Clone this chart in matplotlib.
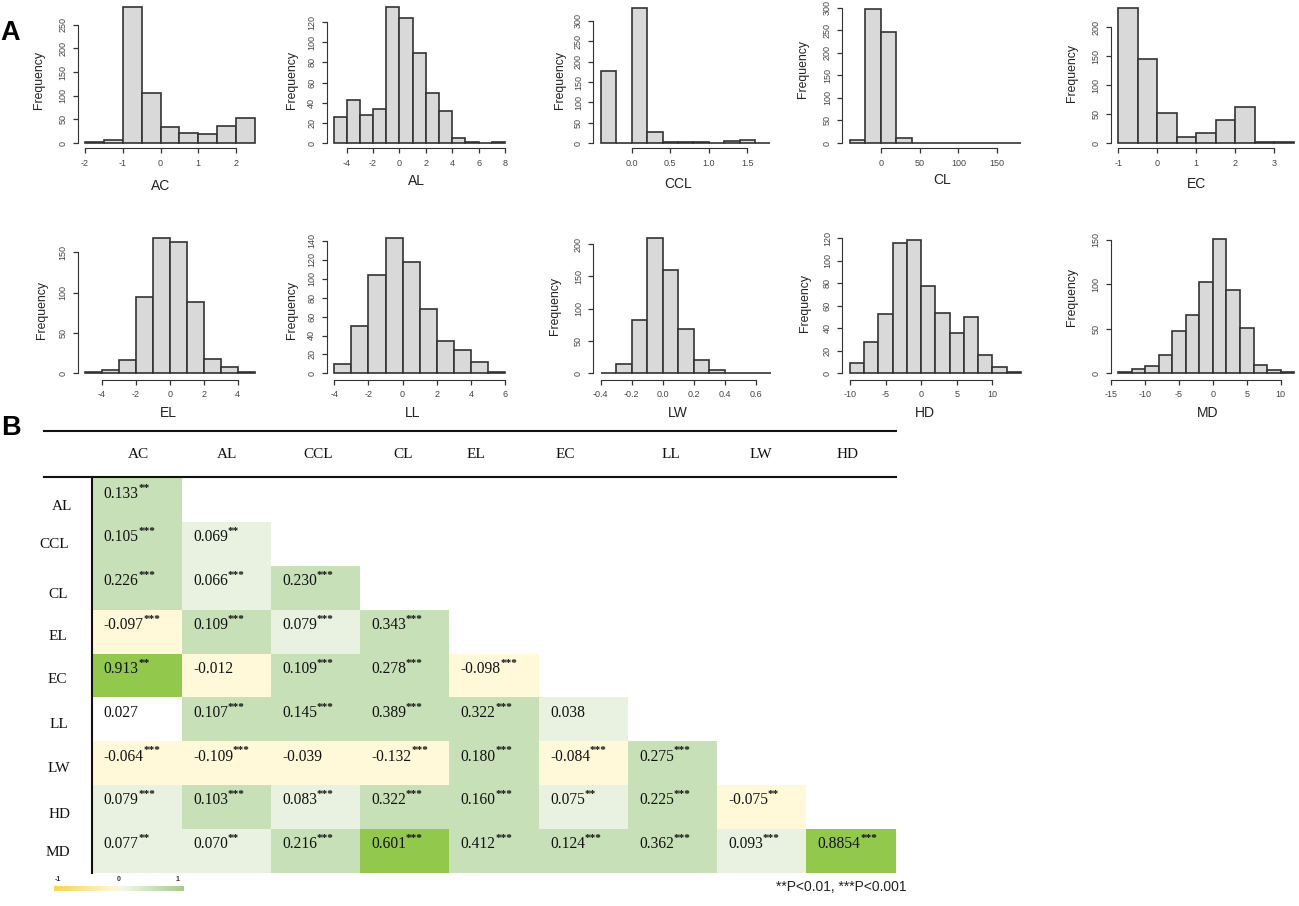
import numpy as np
import matplotlib
matplotlib.use("Agg")
import matplotlib.pyplot as plt
from matplotlib.colors import ListedColormap, BoundaryNorm, LinearSegmentedColormap

W, H = 1299, 906

# === Histogram data: first bin edge, bin width, counts, ticks ===
ac_counts = [3, 7, 287, 105, 33, 22, 19, 35, 52]
al_counts = [26, 43, 28, 34, 135, 124, 89, 50, 32, 5, 1, 0, 1]
ccl_counts = [178, 1, 333, 27, 2, 2, 2, 1, 5, 7, 1]
cl_counts = [6, 298, 247, 12, 0, 0, 0, 0, 0, 0, 1]
ec_counts = [234, 146, 51, 11, 18, 40, 63, 1, 1]
el_counts = [1, 4, 16, 95, 168, 163, 89, 18, 8, 1]
ll_counts = [10, 50, 104, 143, 118, 68, 34, 25, 12, 1]
lw_counts = [1, 14, 83, 209, 160, 69, 20, 5, 1, 0, 1]
hd_counts = [9, 28, 53, 116, 119, 78, 54, 36, 50, 16, 6, 1]
md_counts = [1, 5, 8, 21, 47, 65, 103, 151, 94, 51, 9, 4, 1]

hist_data = {
    "AC": (-2, 0.5, ac_counts, [-2, -1, 0, 1, 2], [0, 50, 100, 150, 200, 250]),
    "AL": (-5, 1, al_counts, [-4, -2, 0, 2, 4, 6, 8], [0, 20, 40, 60, 80, 100, 120]),
    "CCL": (-0.4, 0.2, ccl_counts, [0.0, 0.5, 1.0, 1.5], [0, 50, 100, 150, 200, 250, 300]),
    "CL": (-40, 20, cl_counts, [0, 50, 100, 150], [0, 50, 100, 150, 200, 250, 300]),
    "EC": (-1, 0.5, ec_counts, [-1, 0, 1, 2, 3], [0, 50, 100, 150, 200]),
    "EL": (-5, 1, el_counts, [-4, -2, 0, 2, 4], [0, 50, 100, 150]),
    "LL": (-4, 1, ll_counts, [-4, -2, 0, 2, 4, 6], [0, 20, 40, 60, 80, 100, 120, 140]),
    "LW": (-0.4, 0.1, lw_counts, [-0.4, -0.2, 0.0, 0.2, 0.4, 0.6], [0, 50, 100, 150, 200]),
    "HD": (-10, 2, hd_counts, [-10, -5, 0, 5, 10], [0, 20, 40, 60, 80, 100, 120]),
    "MD": (-14, 2, md_counts, [-15, -10, -5, 0, 5, 10], [0, 50, 100, 150]),
}

# Pixel layout: first/last x tick, y zero, top y tick, y axis, x axis, xlabel x/y, ylabel x/y
hist_layout = {
    "AC": (85, 236, 143, 24.7, 77.7, 148.3, 161, 186, 39, 80),
    "AL": (346.7, 505, 143, 22, 326.7, 148.3, 416, 181, 291.7, 80),
    "CCL": (631.7, 747.3, 143, 21, 593.3, 148.3, 678, 184, 560, 80),
    "CL": (880.7, 997.3, 143, 6.7, 842.3, 148.3, 941.7, 180, 802.7, 69.5),
    "EC": (1118.3, 1274.3, 143, 27.3, 1111, 148.3, 1196, 184, 1071.7, 73),
    "EL": (101.7, 237.7, 373.3, 252.3, 77.7, 380, 168, 412.7, 41.7, 310),
    "LL": (334.3, 505, 373.3, 241, 326.7, 380, 413, 412.7, 291.7, 310),
    "LW": (600.7, 755.7, 373.3, 244, 593.3, 380, 677.7, 412.7, 555, 305.7),
    "HD": (850, 992.3, 373.3, 237.3, 842.3, 380, 925, 413, 805, 303),
    "MD": (1111.3, 1280.7, 373.3, 239.7, 1111, 380, 1207.7, 412.7, 1071.7, 296.7),
}

# === Correlation table ===
col_names = ["AC", "AL", "CCL", "CL", "EL", "EC", "LL", "LW", "HD"]
row_names = ["AL", "CCL", "CL", "EL", "EC", "LL", "LW", "HD", "MD"]
row_al = ["0.133**"]
row_ccl = ["0.105***", "0.069**"]
row_cl = ["0.226***", "0.066***", "0.230***"]
row_el = ["-0.097***", "0.109***", "0.079***", "0.343***"]
row_ec = ["0.913**", "-0.012", "0.109***", "0.278***", "-0.098***"]
row_ll = ["0.027", "0.107***", "0.145***", "0.389***", "0.322***", "0.038"]
row_lw = ["-0.064***", "-0.109***", "-0.039", "-0.132***", "0.180***", "-0.084***", "0.275***"]
row_hd = ["0.079***", "0.103***", "0.083***", "0.322***", "0.160***", "0.075**", "0.225***", "-0.075**"]
row_md = ["0.077**", "0.070**", "0.216***", "0.601***", "0.412***", "0.124***", "0.362***", "0.093***", "0.8854***"]
table_rows = [row_al, row_ccl, row_cl, row_el, row_ec, row_ll, row_lw, row_hd, row_md]

col_label_px = [138.3, 226.7, 318.3, 402.7, 476, 565, 671, 761, 848]
row_label_px = [(62, 506.5), (54, 544.5), (58, 594), (58.3, 637), (57.3, 679.5),
                (59, 724), (59, 768.5), (59.3, 814), (58.3, 853)]

SANS = "Liberation Sans"
SERIF = "Liberation Serif"
LINE = "#333333"

fig = plt.figure(figsize=(W / 100, H / 100), dpi=100)


def fx(x):
    return x / W


def fy(y):
    return 1 - y / H


def px_axes(left, top, right, bottom, **kw):
    return fig.add_axes([fx(left), fy(bottom), (right - left) / W, (bottom - top) / H], **kw)


# === Panel A: histograms ===
for name, (start, width, counts, xticks, yticks) in hist_data.items():
    x0, x1, y0, ytop, yaxis, xaxis, lab_x, lab_y, freq_x, freq_y = hist_layout[name]
    counts = np.array(counts)
    edges = start + width * np.arange(len(counts) + 1)

    # scales follow from the tick positions
    sx = (x1 - x0) / (xticks[-1] - xticks[0])
    sy = (y0 - ytop) / yticks[-1]
    right = x0 + (edges[-1] - xticks[0]) * sx
    top = y0 - counts.max() * sy

    ax = px_axes(yaxis, top, right, xaxis)
    ax.patch.set_alpha(0)
    ax.set_xlim(xticks[0] + (yaxis - x0) / sx, edges[-1])
    ax.set_ylim((y0 - xaxis) / sy, counts.max())
    ax.bar(edges[:-1], counts, width=width, align="edge", color="#d9d9d9",
           edgecolor=LINE, linewidth=1.2, clip_on=False)

    for side in ["top", "right"]:
        ax.spines[side].set_visible(False)
    ax.spines["left"].set_bounds(0, yticks[-1])
    ax.spines["bottom"].set_bounds(xticks[0], xticks[-1])
    ax.spines["left"].set_color(LINE)
    ax.spines["bottom"].set_color(LINE)
    ax.set_xticks(xticks)
    ax.set_yticks(yticks)
    ax.set_xticklabels([str(t) for t in xticks])
    ax.set_yticklabels([str(t) for t in yticks], rotation=90, va="center")
    ax.tick_params(length=3.5, width=0.9, color=LINE, labelcolor="#444444", labelsize=6.5, pad=4)
    for lab in ax.get_xticklabels() + ax.get_yticklabels():
        lab.set_family(SANS)

    fig.text(fx(lab_x), fy(lab_y), name, family=SANS, fontsize=10, color="#222222", ha="center", va="center")
    fig.text(fx(freq_x), fy(freq_y), "Frequency", family=SANS, fontsize=8.8, color="#222222",
             rotation=90, ha="center", va="center")

# === Panel B: correlation table ===
n_rows = len(row_names)
n_cols = len(col_names)
values = np.full((n_rows, n_cols), np.nan)
for i, row in enumerate(table_rows):
    for j, cell in enumerate(row):
        values[i, j] = float(cell.rstrip("*"))

cell_cmap = ListedColormap(["#fff9d9", "#ffffff", "#e9f2e0", "#c8e0b8", "#92c84c"])
cell_norm = BoundaryNorm([-1, 0, 0.03, 0.1, 0.5, 1], cell_cmap.N)

ax = px_axes(92.5, 478.3, 895.7, 872.7)
ax.pcolormesh(np.arange(n_cols + 1), np.arange(n_rows + 1), np.ma.masked_invalid(values),
              cmap=cell_cmap, norm=cell_norm)
ax.set_xlim(0, n_cols)
ax.set_ylim(n_rows, 0)
ax.axis("off")

for i, row in enumerate(table_rows):
    for j, cell in enumerate(row):
        number = cell.rstrip("*")
        stars = cell[len(number):]
        t = ax.text(j + 0.125, i + 0.35, number, family=SERIF, fontsize=11.2, color="#111111",
                    ha="left", va="center")
        if stars:
            ax.annotate(stars, xy=(1, 1), xycoords=t, xytext=(-0.3, 1.5), textcoords="offset points",
                        family=SERIF, fontsize=8, fontweight="bold", color="#111111", ha="left", va="top")

# table rules
for y in [430.7, 476.7]:
    fig.add_artist(plt.Line2D([fx(44), fx(895.7)], [fy(y), fy(y)], color="#111111", linewidth=1.5))
fig.add_artist(plt.Line2D([fx(92.3), fx(92.3)], [fy(476.7), fy(873)], color="#111111", linewidth=1.5))

for name, x in zip(col_names, col_label_px):
    fig.text(fx(x), fy(454.5), name, family=SERIF, fontsize=11, color="#111111", ha="center", va="center")
for name, (x, y) in zip(row_names, row_label_px):
    fig.text(fx(x), fy(y), name, family=SERIF, fontsize=11, color="#111111", ha="center", va="center")

# colour key
key_cmap = LinearSegmentedColormap.from_list(
    "key", [(0, "#f9d649"), (0.45, "#fdf6d0"), (0.52, "#f4f7ec"), (1, "#a3cd8b")])
cax = px_axes(54, 885.7, 183, 891.3)
cax.imshow(np.linspace(0, 1, 256)[None, :], aspect="auto", cmap=key_cmap)
cax.axis("off")
for lab, x in zip(["-1", "0", "1"], [58, 119, 178]):
    fig.text(fx(x), fy(879.3), lab, family=SANS, fontsize=5, fontweight="bold", color="#333333",
             ha="center", va="center")

fig.text(fx(776), fy(887.3), "**P<0.01, ***P<0.001", family=SANS, fontsize=10, color="#222222",
         ha="left", va="center")

# panel letters
fig.text(fx(10), fy(33.5), "A", family=SANS, fontsize=19.5, fontweight="bold", color="black", ha="center", va="center")
fig.text(fx(11), fy(428), "B", family=SANS, fontsize=19.5, fontweight="bold", color="black", ha="center", va="center")

fig.savefig("out.png", dpi=100)
plt.close(fig)
